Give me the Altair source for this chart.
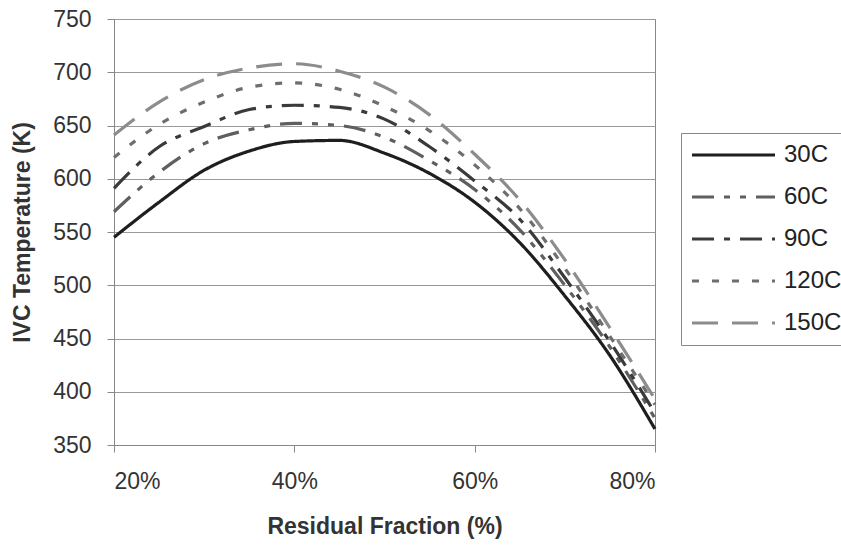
import altair as alt
import pandas as pd

residual = [0.20, 0.25, 0.30, 0.35, 0.40, 0.45, 0.50, 0.55, 0.60, 0.65, 0.70, 0.75, 0.80]
t_30 = [545, 578, 608, 626, 635, 636, 624, 605, 578, 540, 490, 434, 365]
t_60 = [569, 606, 633, 646, 652, 650, 639, 617, 590, 552, 500, 442, 375]
t_90 = [591, 630, 649, 665, 669, 667, 656, 630, 598, 562, 507, 447, 380]
t_120 = [620, 651, 672, 686, 690, 684, 668, 645, 613, 572, 516, 452, 388]
t_150 = [641, 672, 693, 704, 708, 701, 686, 660, 623, 580, 524, 460, 393]

series_names = ["30C", "60C", "90C", "120C", "150C"]
series_values = [t_30, t_60, t_90, t_120, t_150]
series_colors = ["#1e1e1e", "#5f5f5f", "#3a3a3a", "#6e6e6e", "#8c8c8c"]
series_dashes = [[1, 0], [22, 10, 6, 10, 6, 10], [22, 10, 6, 10], [7, 13], [26, 14]]

rows = []
for name, vals in zip(series_names, series_values):
    for x, v in zip(residual, vals):
        rows.append({"Residual": x, "Temp": v, "Series": name})
df = pd.DataFrame(rows)

FONT = "Liberation Sans"

chart = alt.Chart(df).mark_line(strokeWidth=3.2, interpolate="monotone").encode(
    x=alt.X("Residual:Q",
            scale=alt.Scale(domain=[0.2, 0.8], nice=False, zero=False),
            axis=alt.Axis(values=[0.2, 0.4, 0.6, 0.8], format=".0%", grid=False,
                          title="Residual Fraction (%)", tickSize=7,
                          labelPadding=18, titlePadding=22)),
    y=alt.Y("Temp:Q",
            scale=alt.Scale(domain=[350, 750], nice=False, zero=False),
            axis=alt.Axis(values=list(range(350, 751, 50)), grid=True,
                          title="IVC Temperature (K)", tickSize=7,
                          labelPadding=16, titlePadding=18)),
    color=alt.Color("Series:N", sort=series_names,
                    scale=alt.Scale(domain=series_names, range=series_colors),
                    legend=alt.Legend(orient="none", legendX=567, legendY=114,
                                      title=None, symbolType="stroke",
                                      symbolSize=6889, symbolStrokeWidth=3.2,
                                      clipHeight=26,
                                      labelFontSize=24, labelFont=FONT,
                                      labelColor="#222", labelOffset=7,
                                      rowPadding=16, padding=9,
                                      strokeColor="#888", fillColor="white")),
    strokeDash=alt.StrokeDash("Series:N", sort=series_names,
                              scale=alt.Scale(domain=series_names, range=series_dashes),
                              legend=None),
).properties(
    width=541, height=426,
    autosize=alt.AutoSizeParams(type="none"),
    padding={"left": 114, "top": 19, "right": 186, "bottom": 101},
).configure_view(
    stroke="#888", strokeWidth=1
).configure_axis(
    labelFont=FONT, titleFont=FONT, labelFontSize=23, titleFontSize=23,
    labelColor="#333", titleColor="#333", titleFontWeight="bold",
    domainColor="#888", tickColor="#888", gridColor="#999", gridWidth=1,
)

chart.save("out.html", embed_options={"renderer": "svg", "actions": False})
